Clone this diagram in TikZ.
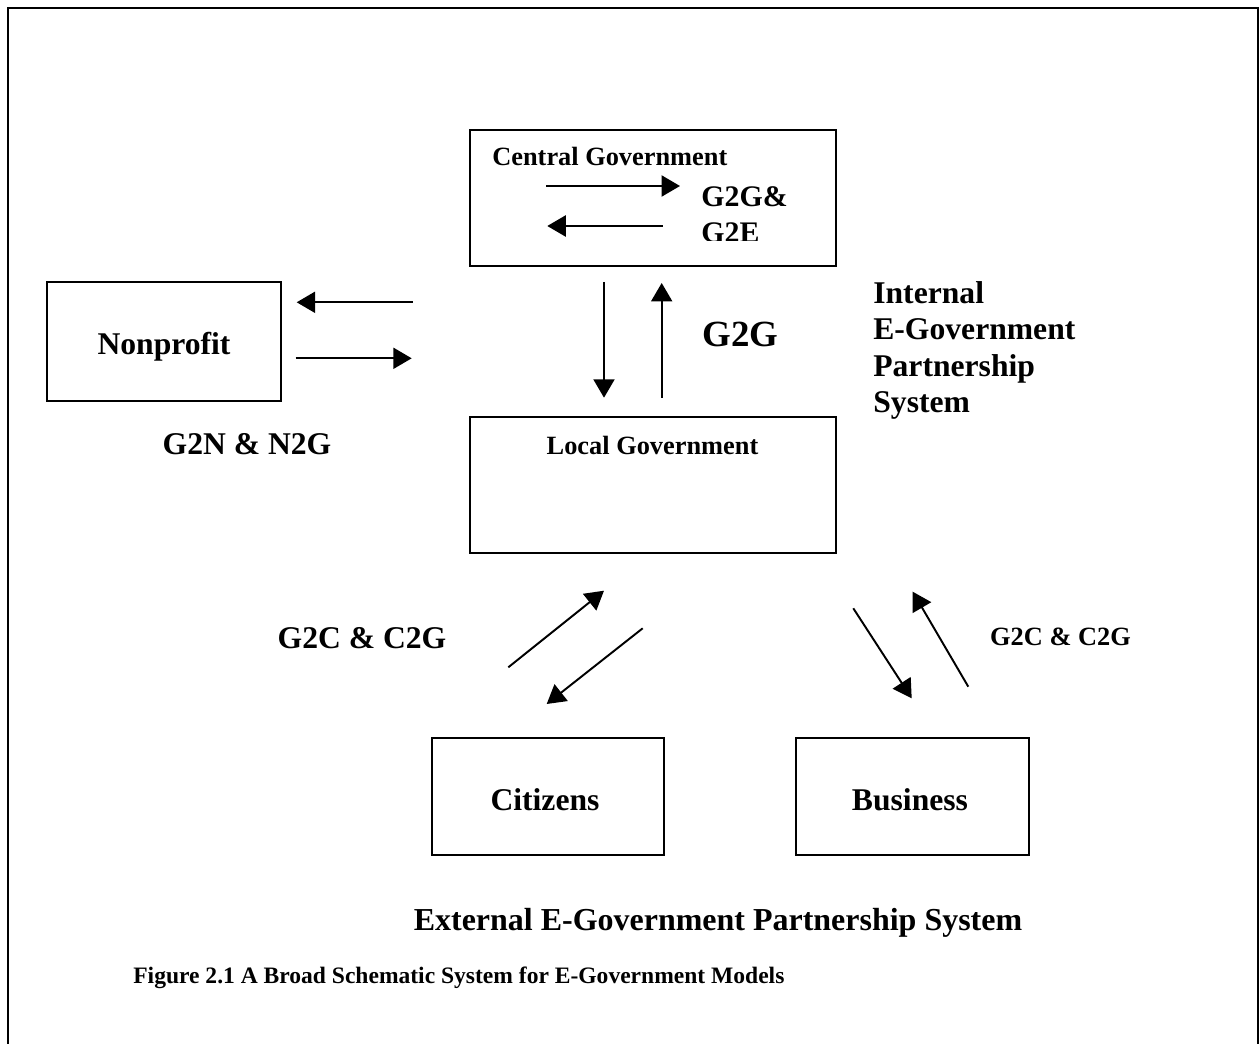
\documentclass[tikz,border=0pt]{standalone}
\usepackage{fontspec}
\setmainfont{Liberation Serif}
\usepackage{tikz}
\usetikzlibrary{positioning, arrows.meta}

\begin{document}
\begin{tikzpicture}[
        x=0.02cm, y=-0.02cm,
        box/.style={draw, line width=1.1pt, inner sep=0pt},
        txt/.style={font=\bfseries\fontsize{#1pt}{#1pt}\selectfont, inner sep=0pt},
        arr/.style={line width=1.1pt, -{Triangle[length=10.5pt, width=12pt]}}
      ]
      \useasboundingbox (0,0) rectangle (1259,1044);
      \draw[line width=1.4pt] (8,1044) -- (8,8) -- (1258,8) -- (1258,1044);
      % boxes
      \node[box, minimum width=7.32cm, minimum height=2.72cm] (central) at (653,198) {};
      \node[box, minimum width=4.67cm, minimum height=2.37cm] (nonprofit) at (164,341.5) {};
      \node[box, minimum width=7.32cm, minimum height=2.72cm] (local) at (653,485) {};
      \node[box, minimum width=4.65cm, minimum height=2.34cm] (citizens) at (548,796.5) {};
      \node[box, minimum width=4.67cm, minimum height=2.34cm] (business) at (912.3,796.5) {};
      % texts
      \node[txt=15, anchor=base west] (centralT) at (492,165.7) {Central Government};
      \node[txt=17, anchor=base west] (g2ge) at (701,207) {G2G\&};
      \begin{scope}
        \clip (690,215) rectangle (800,241);
        \node[txt=17, anchor=base west] (g2e) at (701,243) {G2E};
      \end{scope}
      \node[txt=18, anchor=base] (nonprofitT) at (164,355) {Nonprofit};
      \node[txt=18, anchor=base] (g2n) at (247,455) {G2N \& N2G};
      \node[txt=21, anchor=base west] (g2g) at (702,347) {G2G};
      \node[txt=18, anchor=north west, align=left,
            font=\bfseries\fontsize{18pt}{20.8pt}\selectfont] (internal) at (873,281)
            {Internal\\E-Government\\Partnership\\System};
      \node[txt=15, anchor=base] (localT) at (652.5,455) {Local Government};
      \node[txt=18, anchor=base] (g2cL) at (362,648) {G2C \& C2G};
      \node[txt=15, anchor=base] (g2cR) at (1060.5,645) {G2C \& C2G};
      \node[txt=18, anchor=base] (citizensT) at (545,810.7) {Citizens};
      \node[txt=18, anchor=base] (businessT) at (910,810.7) {Business};
      \node[txt=18.2, anchor=base] (external) at (718,930.7) {External E-Government Partnership System};
      \node[txt=13.4, anchor=base west] (caption) at (133,983) {Figure 2.1 A Broad Schematic System for E-Government Models};
      % arrow ends
      \coordinate (c1) at (546,186);   \coordinate (c2) at (680,186);
      \coordinate (c3) at (662.7,226); \coordinate (c4) at (547.3,226);
      \coordinate (n1) at (412.7,302.3); \coordinate (n2) at (296.7,302.3);
      \coordinate (n3) at (295.7,358.3); \coordinate (n4) at (411.7,358.3);
      \coordinate (v1) at (604,282);   \coordinate (v2) at (604,397.7);
      \coordinate (v3) at (661.7,398); \coordinate (v4) at (661.7,283);
      \coordinate (p1) at (508.3,667.3); \coordinate (p2) at (604,590.7);
      \coordinate (p3) at (642.7,628.3); \coordinate (p4) at (546.7,704);
      \coordinate (b1) at (853.3,608.3); \coordinate (b2) at (911.7,698.3);
      \coordinate (b3) at (968.3,686.7); \coordinate (b4) at (912.7,591.7);
      \draw[arr] (c1) -- (c2);
      \draw[arr] (c3) -- (c4);
      \draw[arr] (n1) -- (n2);
      \draw[arr] (n3) -- (n4);
      \draw[arr] (v1) -- (v2);
      \draw[arr] (v3) -- (v4);
      \draw[arr] (p1) -- (p2);
      \draw[arr] (p3) -- (p4);
      \draw[arr] (b1) -- (b2);
      \draw[arr] (b3) -- (b4);
\end{tikzpicture}
\end{document}
